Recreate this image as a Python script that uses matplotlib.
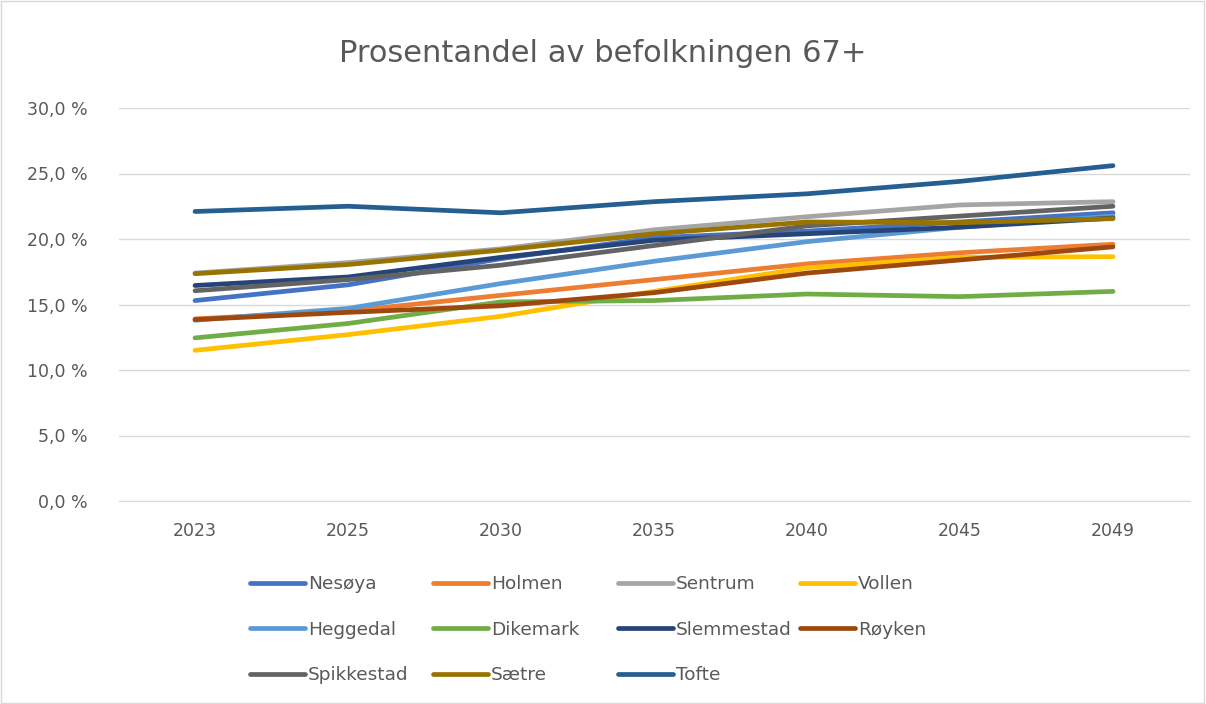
import matplotlib.pyplot as plt
from matplotlib.patches import Rectangle
from matplotlib.ticker import FuncFormatter

# --- Data ---
years = ["2023", "2025", "2030", "2035", "2040", "2045", "2049"]

nesoya = [15.3, 16.5, 18.5, 20.1, 20.6, 21.3, 22.0]
holmen = [13.9, 14.5, 15.7, 16.9, 18.1, 18.95, 19.6]
sentrum = [17.4, 18.2, 19.25, 20.7, 21.7, 22.6, 22.85]
vollen = [11.5, 12.7, 14.1, 16.0, 17.8, 18.6, 18.65]
heggedal = [13.8, 14.7, 16.6, 18.3, 19.8, 20.9, 21.75]
dikemark = [12.45, 13.55, 15.2, 15.3, 15.8, 15.6, 16.0]
slemmestad = [16.45, 17.1, 18.6, 19.9, 20.4, 20.9, 21.6]
royken = [13.85, 14.4, 14.9, 15.9, 17.4, 18.4, 19.4]
spikkestad = [16.05, 16.9, 18.0, 19.5, 21.0, 21.75, 22.5]
saetre = [17.35, 18.05, 19.15, 20.4, 21.3, 21.25, 21.55]
tofte = [22.1, 22.5, 22.0, 22.85, 23.45, 24.4, 25.6]

names = ["Nesøya", "Holmen", "Sentrum", "Vollen", "Heggedal", "Dikemark",
         "Slemmestad", "Røyken", "Spikkestad", "Sætre", "Tofte"]
series = [nesoya, holmen, sentrum, vollen, heggedal, dikemark,
          slemmestad, royken, spikkestad, saetre, tofte]
colors = ["#4472C4", "#ED7D31", "#A5A5A5", "#FFC000", "#5B9BD5", "#70AD47",
          "#264478", "#9E480E", "#636363", "#997300", "#255E91"]

text_color = "#595959"
plt.rcParams['font.family'] = ['DejaVu Sans']

fig = plt.figure(figsize=(12.06, 7.04), dpi=100)
ax = fig.add_axes([118.5 / 1206, 1 - 501 / 704, (1189.5 - 118.5) / 1206, (501 - 108) / 704])

x = list(range(len(years)))
lines = []
for name, vals, c in zip(names, series, colors):
    ln, = ax.plot(x, vals, color=c, linewidth=3.4, solid_capstyle='round', label=name)
    lines.append(ln)

ax.set_xlim(-0.5, len(years) - 0.5)
ax.set_ylim(0, 30)
ax.set_yticks([0, 5, 10, 15, 20, 25, 30])
ax.yaxis.set_major_formatter(FuncFormatter(lambda v, p: f"{v:.1f} %".replace(".", ",")))
ax.set_xticks(x)
ax.set_xticklabels(years)
ax.grid(axis='y', color='#D9D9D9', linewidth=1.0)
ax.set_axisbelow(True)
for s in ["top", "right", "left"]:
    ax.spines[s].set_visible(False)
ax.spines["bottom"].set_color("#D9D9D9")
ax.tick_params(axis='both', length=0, labelsize=12.5, colors=text_color)
ax.tick_params(axis='y', pad=22)
ax.tick_params(axis='x', pad=15)

fig.text(0.5, 1 - 54 / 704, "Prosentandel av befolkningen 67+", ha='center', va='center',
         fontsize=22, color=text_color)

# legend: 4 columns laid out row by row, one legend per column
col_x = [250, 433, 618, 800]
for j, cx in enumerate(col_x):
    idx = list(range(j, len(names), 4))
    leg = fig.legend([lines[i] for i in idx], [names[i] for i in idx],
                     loc='upper left', bbox_to_anchor=(cx / 1206, 1 - 575 / 704),
                     frameon=False, fontsize=13.3, handlelength=3.0, handletextpad=0.15,
                     labelspacing=1.5, borderpad=0, borderaxespad=0,
                     labelcolor=text_color)

fig.patches.append(Rectangle((0.001, 0.001), 0.997, 0.997, transform=fig.transFigure,
                             fill=False, edgecolor='#D9D9D9', linewidth=1.0))

fig.savefig("out.png", dpi=100)
